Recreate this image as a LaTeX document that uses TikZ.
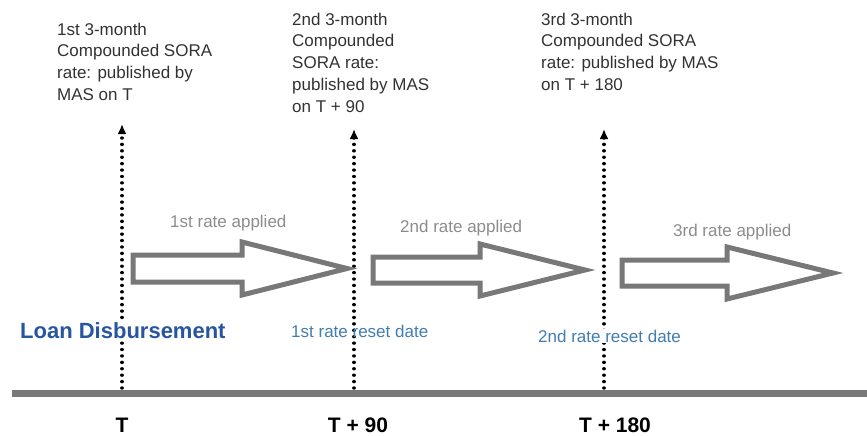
\documentclass[tikz,border=0pt]{standalone}
\usepackage{fontspec}
\setmainfont{Liberation Sans}
\usetikzlibrary{arrows.meta}
\definecolor{txtgray}{RGB}{50,50,50}
\definecolor{applgray}{RGB}{140,140,140}
\definecolor{linegray}{RGB}{120,120,120}
\definecolor{loanblue}{RGB}{40,85,160}
\definecolor{resetblue}{RGB}{65,125,175}
\tikzset{
  pubtext/.style={anchor=north west, inner sep=0pt, align=left, text=txtgray, font=\fontsize{17}{21.8}\selectfont},
  appltext/.style={anchor=base west, inner sep=0pt, text=applgray, font=\fontsize{17}{20}\selectfont},
  resettext/.style={anchor=base west, inner sep=1pt, text=resetblue, font=\fontsize{17}{20}\selectfont},
  daytext/.style={anchor=base, inner sep=0pt, text=black, font=\fontsize{21}{24}\selectfont\bfseries},
  dotline/.style={draw=black, line width=3.4pt, line cap=round, dash pattern=on 0.01pt off 6.4pt, -{Latex[length=10pt,width=9pt]}},
  blockarrow/.style={draw=linegray, line width=5pt, line join=miter, fill=white},
  timeline/.style={draw=linegray, line width=7pt}
}
\begin{document}
\begin{tikzpicture}[x=1pt,y=-1pt]
\useasboundingbox (0,0) rectangle (867,436);
% timeline
\coordinate (tlL) at (12,393);
\coordinate (tlR) at (867,393);
\draw[timeline] (tlL) -- (tlR);
% dotted verticals
\coordinate (d0b) at (122,388);
\coordinate (d0t) at (122,124);
\coordinate (d1b) at (354,388);
\coordinate (d1t) at (354,129);
\coordinate (d2b) at (604,388);
\coordinate (d2t) at (604,129);
\draw[dotline] (d0b) -- (d0t);
\draw[dotline] (d1b) -- (d1t);
\draw[dotline] (d2b) -- (d2t);
% block arrows
\draw[blockarrow] (133,255) -- (242,255) -- (242,242) -- (347,268.5) -- (242,295) -- (242,282) -- (133,282) -- cycle;
\draw[blockarrow] (373,257) -- (480,257) -- (480,244) -- (585,270) -- (480,296) -- (480,283) -- (373,283) -- cycle;
\draw[blockarrow] (622,260) -- (727,260) -- (727,247) -- (833,273) -- (727,299) -- (727,286) -- (622,286) -- cycle;
% published texts
\node[pubtext] (pub1) at (57,22.5) {1st 3-month\\Compounded SORA\\rate: published by\\MAS on T};
\node[pubtext] (pub2) at (292,12.5) {2nd 3-month\\Compounded\\SORA rate:\\published by MAS\\on T + 90};
\node[pubtext] (pub3) at (541,12.5) {3rd 3-month\\Compounded SORA\\rate: published by MAS\\on T + 180};
% applied labels
\node[appltext] (ap1) at (170,227) {1st rate applied};
\node[appltext] (ap2) at (400,232) {2nd rate applied};
\node[appltext] (ap3) at (673,236) {3rd rate applied};
% loan disbursement and reset dates
\node[anchor=base west, inner sep=2pt, fill=white, text=loanblue, font=\fontsize{22}{26}\selectfont\bfseries] (loan) at (18,338) {Loan Disbursement};
\node[resettext] (rs1) at (290,337) {1st rate reset date};
\node[resettext, fill=white] (rs2) at (537,342) {2nd rate reset date};
% day labels
\node[daytext] (T0) at (122,432) {T};
\node[daytext] (T1) at (358,432) {T + 90};
\node[daytext] (T2) at (615,432) {T + 180};
\end{tikzpicture}
\end{document}
